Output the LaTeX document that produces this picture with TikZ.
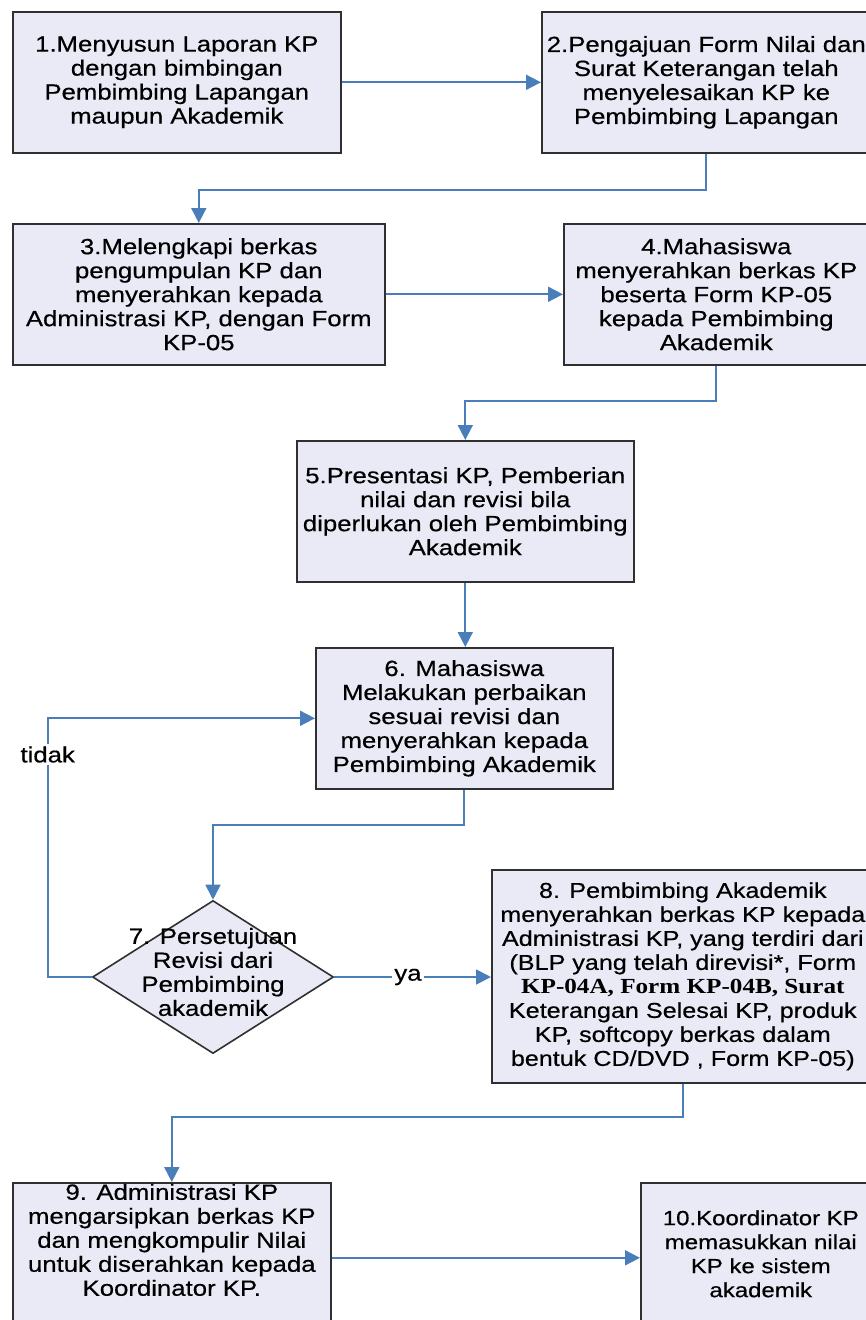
\documentclass[tikz,border=0pt]{standalone}
\usepackage{fontspec}
\setmainfont{Liberation Sans}[FakeStretch=1.17, FakeBold=0.5]
\newfontfamily\formfont{Liberation Serif}[FakeStretch=1.17]
\usetikzlibrary{arrows.meta,shapes.geometric,positioning}
\definecolor{boxfill}{RGB}{233,234,246}
\definecolor{boxline}{RGB}{48,48,48}
\definecolor{flowblue}{RGB}{74,126,187}

\begin{document}
\begin{tikzpicture}[x=1pt, y=-1pt, font=\fontsize{22}{24}\selectfont]
            \tikzstyle{stepbox}=[rectangle, draw=boxline, line width=1.6pt, fill=boxfill, align=center, inner sep=1pt, anchor=north west]
            \tikzstyle{checkbox}=[diamond, draw=boxline, line width=1.6pt, fill=boxfill, inner sep=0pt, minimum width=241, minimum height=153]
            \tikzstyle{flow}=[draw=flowblue, line width=1.8pt, -{Triangle[length=15pt,width=15pt]}]
            \tikzstyle{lbl}=[fill=white, inner sep=2pt]
            \useasboundingbox (0,0) rectangle (865,1320);

            \node[stepbox, minimum width=328, minimum height=141] (box1) at (12,11)
                {1.Menyusun Laporan KP\\dengan bimbingan\\Pembimbing Lapangan\\maupun Akademik};
            \node[stepbox, minimum width=329, minimum height=141] (box2) at (541,11)
                {2.Pengajuan Form Nilai dan\\Surat Keterangan telah\\menyelesaikan KP ke\\Pembimbing Lapangan};
            \node[stepbox, minimum width=372, minimum height=141] (box3) at (12,223)
                {3.Melengkapi berkas\\pengumpulan KP dan\\menyerahkan kepada\\Administrasi KP, dengan Form\\KP-05};
            \node[stepbox, minimum width=305, minimum height=141] (box4) at (563,223)
                {4.Mahasiswa\\menyerahkan berkas KP\\beserta Form KP-05\\kepada Pembimbing\\Akademik};
            \node[stepbox, minimum width=337, minimum height=141] (box5) at (296,440)
                {5.Presentasi KP, Pemberian\\nilai dan revisi bila\\diperlukan oleh Pembimbing\\Akademik};
            \node[stepbox, minimum width=297, minimum height=141] (box6) at (315,647)
                {6. Mahasiswa\\Melakukan perbaikan\\sesuai revisi dan\\menyerahkan kepada\\Pembimbing Akademik};
            \node[checkbox] (dec) at (213,977) {};
            \node[align=center, yshift=5pt] (dectext) at (dec) {7. Persetujuan\\Revisi dari\\Pembimbing\\akademik};
            \node[stepbox, minimum width=382, minimum height=213, font=\fontsize{21.5}{24}\selectfont] (box8) at (491,869)
                {8. Pembimbing Akademik\\menyerahkan berkas KP kepada\\Administrasi KP, yang terdiri dari\\(BLP yang telah direvisi*, Form\\{\formfont\bfseries KP-04A, Form KP-04B, Surat}\\Keterangan Selesai KP, produk\\KP, softcopy berkas dalam\\bentuk CD/DVD , Form KP-05)};
            \node[stepbox, minimum width=318, minimum height=150] (box9) at (12,1182)
                {\parbox[c][148pt][t]{316pt}{\centering 9. Administrasi KP\\mengarsipkan berkas KP\\dan mengkompulir Nilai\\untuk diserahkan kepada\\Koordinator KP.}};
            \node[stepbox, minimum width=240, minimum height=142, font=\fontsize{20.5}{24}\selectfont] (box10) at (640,1182)
                {10.Koordinator KP\\memasukkan nilai\\KP ke sistem\\akademik};

            \path[flow] (box1.east) -- (box2.west);
            \path[flow] (box2.south) -- ++(0,36) -| (box3.north);
            \path[flow] (box3.east) -- (box4.west);
            \path[flow] (box4.south) -- ++(0,35) -| (box5.north);
            \path[flow] (box5.south) -- (box5.south |- box6.north);
            \path[flow] (box6.south) -- ++(0,35) -| (dec.north);
            \path[flow] (dec.west) -- ++(-44,0) |- node[lbl, pos=0.43] {tidak} (box6.west);
            \path[flow] (dec.east) -- node[lbl, pos=0.47] {ya} (dec.east -| box8.west);
            \path[flow] (box8.south) -- ++(0,33) -| (box9.north);
            \path[flow] (box9.east) -- (box9.east -| box10.west);
        \end{tikzpicture}
\end{document}
